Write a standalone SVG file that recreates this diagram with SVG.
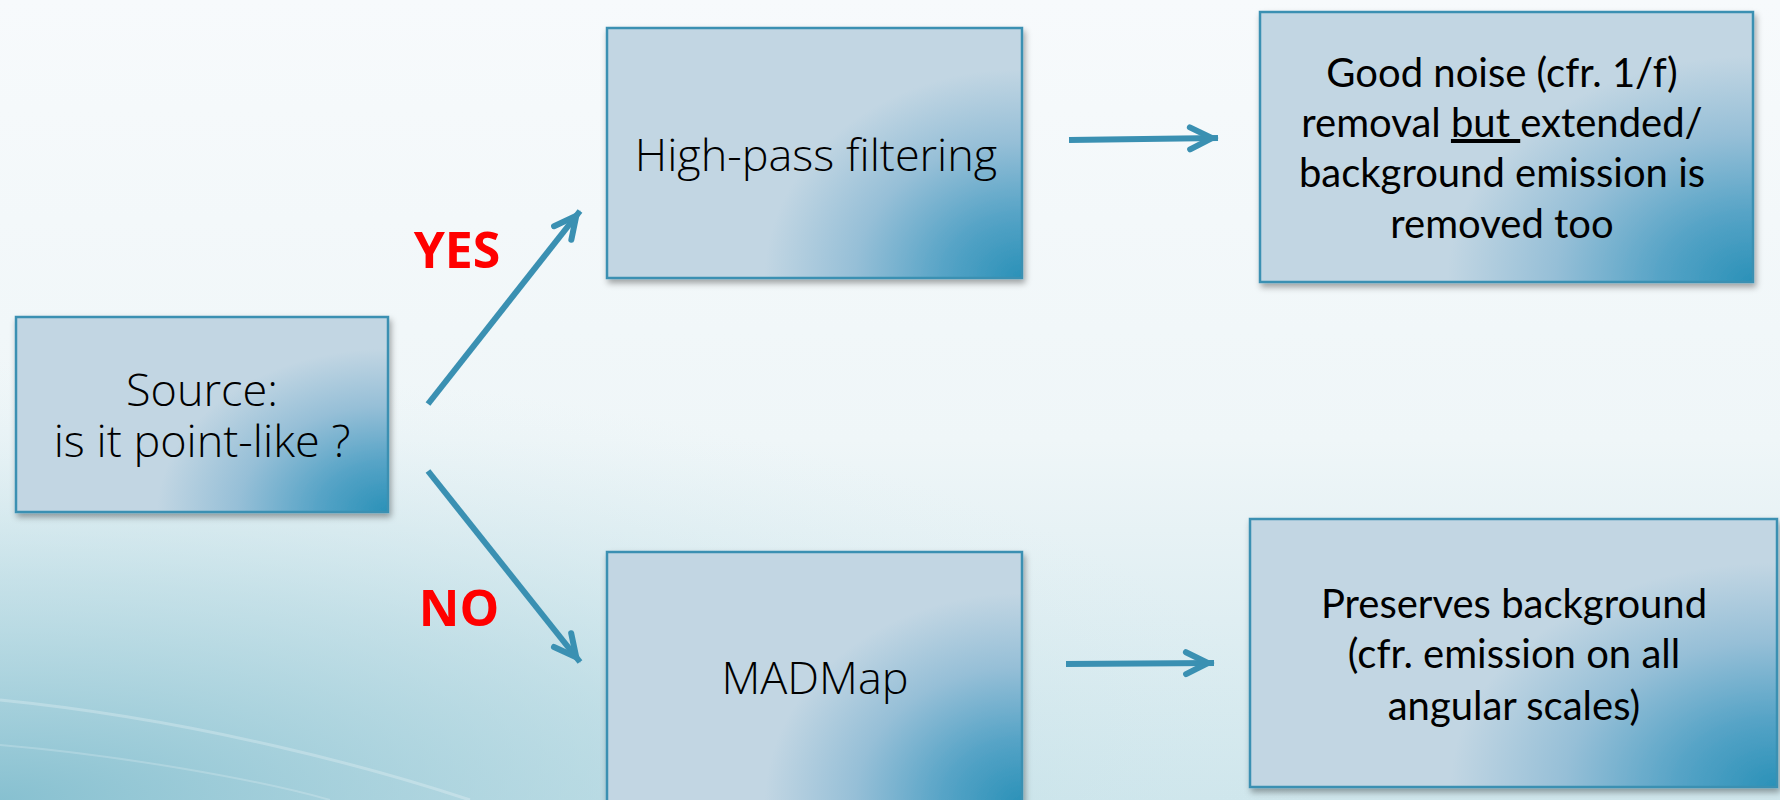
<svg xmlns="http://www.w3.org/2000/svg" width="1780" height="800" viewBox="0 0 1780 800">
<defs>
  <linearGradient id="bg" x1="0" y1="0" x2="0" y2="1">
    <stop offset="0" stop-color="#f7fafc"/>
    <stop offset="0.55" stop-color="#eff6f8"/>
    <stop offset="1" stop-color="#cfe6ec"/>
  </linearGradient>
  <radialGradient id="bgcorner" cx="0" cy="1" r="1" gradientUnits="objectBoundingBox" gradientTransform="translate(0,1) scale(0.75,0.55) translate(0,-1)">
    <stop offset="0" stop-color="#7fbccd" stop-opacity="0.9"/>
    <stop offset="0.5" stop-color="#a9d2dd" stop-opacity="0.5"/>
    <stop offset="1" stop-color="#d8ecf1" stop-opacity="0"/>
  </radialGradient>
  <radialGradient id="boxfill" cx="1" cy="1" r="0.62" gradientUnits="objectBoundingBox" gradientTransform="translate(1,1) scale(1,1.35) translate(-1,-1)">
    <stop offset="0" stop-color="#2a91b8"/>
    <stop offset="0.3" stop-color="#55a3c6"/>
    <stop offset="0.65" stop-color="#96bfd7"/>
    <stop offset="1" stop-color="#c2d6e3"/>
  </radialGradient>
  <filter id="shadow" x="-10%" y="-10%" width="125%" height="130%">
    <feDropShadow dx="2" dy="4" stdDeviation="3" flood-color="#000" flood-opacity="0.35"/>
  </filter>
  <marker id="arrow" markerUnits="userSpaceOnUse" viewBox="-34 -20 40 40" refX="0" refY="0" markerWidth="40" markerHeight="40" orient="auto">
    <path d="M -28 -11 L -6 0 L -28 11" fill="none" stroke="#3a90b2" stroke-width="6" stroke-linecap="round" stroke-linejoin="miter"/>
  </marker>
  <style>
    .box { fill: url(#boxfill); stroke: #3a90b2; stroke-width: 2.5; filter: url(#shadow); }
    .lt { font-family: "Open Sans", "Liberation Sans", sans-serif; font-weight: 300; font-size: 45px; fill: #000; text-anchor: middle; }
    .cb { font-family: Lato, "Open Sans", sans-serif; font-size: 40px; fill: #000; text-anchor: middle; }
    .lbl { font-family: "Open Sans", "Liberation Sans", sans-serif; font-weight: bold; font-size: 50px; fill: #ff0000; text-anchor: middle; }
    .conn { fill: none; stroke: #3a90b2; stroke-width: 6; marker-end: url(#arrow); }
  </style>
</defs>

<rect x="0" y="0" width="1780" height="800" fill="url(#bg)"/>
<rect x="0" y="0" width="1780" height="800" fill="url(#bgcorner)"/>
<path d="M 0 700 C 200 720 380 770 470 800" fill="none" stroke="#ffffff" stroke-opacity="0.25" stroke-width="3"/>
<path d="M 0 745 C 120 755 260 780 330 800" fill="none" stroke="#ffffff" stroke-opacity="0.2" stroke-width="2"/>

<g id="connectors">
  <path class="conn" d="M 428 404 L 580 211"/>
  <path class="conn" d="M 428 471 L 580 662"/>
  <path class="conn" d="M 1069 140 L 1218 138"/>
  <path class="conn" d="M 1066 664 L 1214 663"/>
</g>

<g id="label-yes"><text class="lbl" x="457" y="268">YES</text></g>
<g id="label-no"><text class="lbl" x="459" y="626">NO</text></g>

<g id="node-source">
  <rect class="box" x="16" y="317" width="372" height="195"/>
  <text class="lt" x="202" y="406">Source:</text>
  <text class="lt" x="202" y="457">is it point-like ?</text>
</g>

<g id="node-highpass">
  <rect class="box" x="607" y="28" width="415" height="250"/>
  <text class="lt" x="816" y="171">High-pass filtering</text>
</g>

<g id="node-madmap">
  <rect class="box" x="607" y="552" width="415" height="252"/>
  <text class="lt" x="815" y="694">MADMap</text>
</g>

<g id="node-goodnoise">
  <rect class="box" x="1260" y="12" width="493" height="270"/>
  <text class="cb" x="1502" y="87">Good noise (cfr. 1/f)</text>
  <text class="cb" x="1502" y="137">removal <tspan text-decoration="underline">but </tspan>extended/</text>
  <text class="cb" x="1502" y="187">background emission is</text>
  <text class="cb" x="1502" y="238">removed too</text>
</g>

<g id="node-preserves">
  <rect class="box" x="1250" y="519" width="527" height="268"/>
  <text class="cb" x="1514" y="618">Preserves background</text>
  <text class="cb" x="1514" y="668">(cfr. emission on all</text>
  <text class="cb" x="1514" y="720">angular scales)</text>
</g>
</svg>
